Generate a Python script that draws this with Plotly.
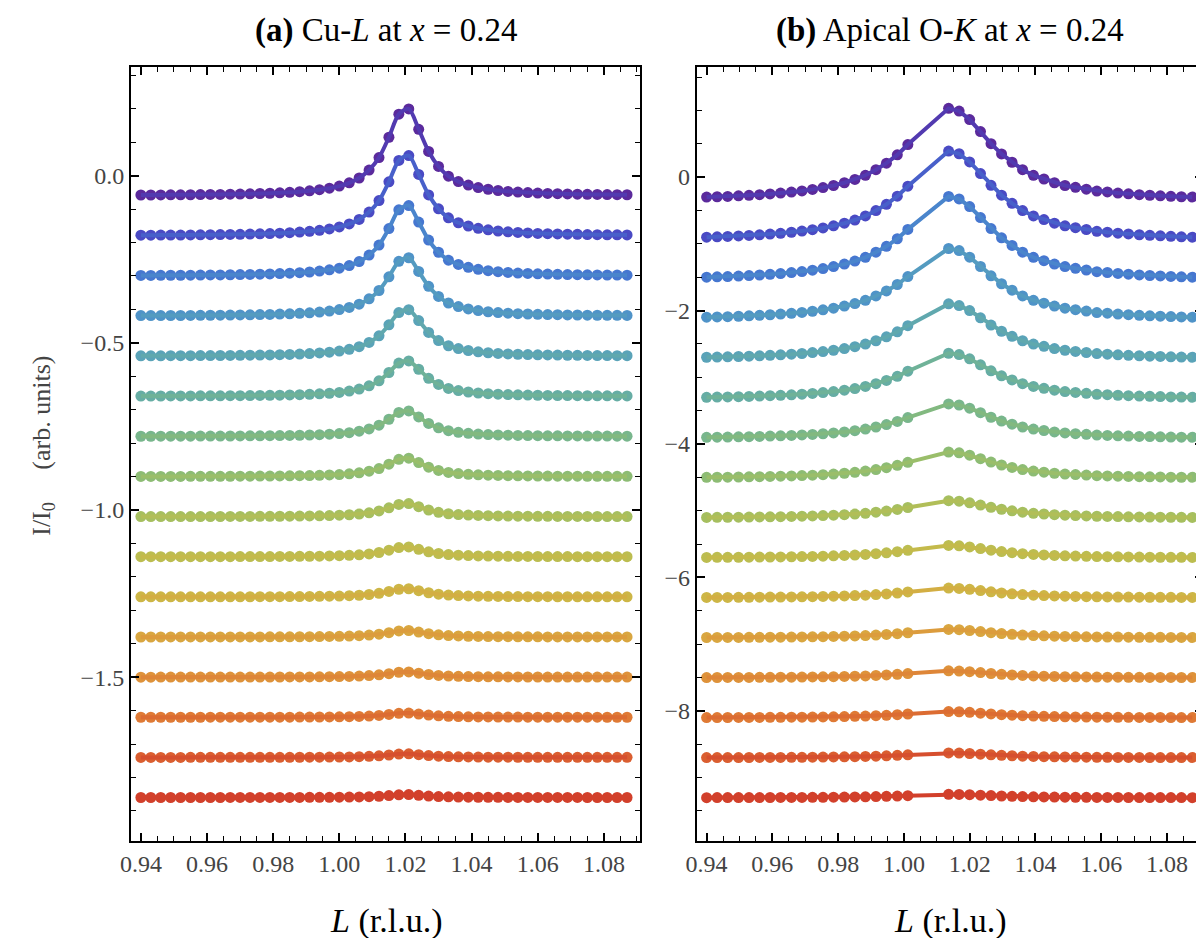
import plotly.graph_objects as go

# ---------------- data ----------------
# Panel (a): Cu-L, measured L positions
L_a = [0.940, 0.943, 0.946, 0.949, 0.952, 0.955, 0.958, 0.961, 0.964, 0.967,
       0.970, 0.973, 0.976, 0.979, 0.982, 0.985, 0.988, 0.991, 0.994, 0.997,
       1.000, 1.003, 1.006, 1.009, 1.012, 1.015, 1.018, 1.021, 1.024, 1.027,
       1.030, 1.033, 1.036, 1.039, 1.042, 1.045, 1.048, 1.051, 1.054, 1.057,
       1.060, 1.063, 1.066, 1.069, 1.072, 1.075, 1.078, 1.081, 1.084, 1.087]
# normalised peak shape (a)
shape_a = [0.008, 0.008, 0.009, 0.010, 0.010, 0.011, 0.013, 0.014, 0.015, 0.017,
           0.019, 0.022, 0.025, 0.028, 0.033, 0.038, 0.046, 0.055, 0.068, 0.085,
           0.109, 0.145, 0.200, 0.290, 0.430, 0.660, 0.920, 0.980, 0.750, 0.500,
           0.330, 0.220, 0.160, 0.120, 0.092, 0.073, 0.059, 0.049, 0.041, 0.035,
           0.030, 0.026, 0.023, 0.020, 0.018, 0.016, 0.014, 0.013, 0.012, 0.011]
base_a = [-0.06, -0.18, -0.30, -0.42, -0.54, -0.66, -0.78, -0.90,
          -1.02, -1.14, -1.26, -1.38, -1.50, -1.62, -1.74, -1.86]
amp_a = [0.265, 0.245, 0.215, 0.178, 0.142, 0.108, 0.078, 0.056,
         0.040, 0.030, 0.025, 0.020, 0.016, 0.013, 0.011, 0.009]

# Panel (b): apical O-K, measured L positions (gap near the peak)
L_b = [0.9400, 0.9432, 0.9464, 0.9497, 0.9529, 0.9561, 0.9593, 0.9625, 0.9658, 0.9690,
       0.9722, 0.9754, 0.9786, 0.9819, 0.9851, 0.9883, 0.9915, 0.9947, 0.9980, 1.0012,
       1.0136, 1.0168, 1.0200, 1.0233, 1.0265, 1.0297, 1.0329, 1.0361, 1.0394, 1.0426,
       1.0458, 1.0490, 1.0522, 1.0555, 1.0587, 1.0619, 1.0651, 1.0683, 1.0716, 1.0748,
       1.0780, 1.0812, 1.0844, 1.0877]
shape_b = [0.000, 0.004, 0.008, 0.014, 0.020, 0.027, 0.036, 0.045, 0.057, 0.070,
           0.087, 0.107, 0.131, 0.162, 0.199, 0.246, 0.309, 0.382, 0.476, 0.592,
           1.000, 0.969, 0.874, 0.738, 0.602, 0.487, 0.393, 0.309, 0.246, 0.204,
           0.162, 0.131, 0.110, 0.089, 0.068, 0.058, 0.046, 0.037, 0.028, 0.021,
           0.015, 0.009, 0.004, 0.000]
base_b = [-0.3, -0.9, -1.5, -2.1, -2.7, -3.3, -3.9, -4.5,
          -5.1, -5.7, -6.3, -6.9, -7.5, -8.1, -8.7, -9.3]
amp_b = [1.33, 1.29, 1.21, 1.03, 0.80, 0.66, 0.50, 0.38,
         0.25, 0.18, 0.14, 0.12, 0.10, 0.09, 0.07, 0.05]

x_ticks = [0.94, 0.96, 0.98, 1.00, 1.02, 1.04, 1.06, 1.08]

# ---------------- styles ----------------
dot_colors = ["#5b2a9c", "#4a4ac4", "#4677d0", "#4f93c8", "#5aa3b8", "#66ada4",
              "#78b68c", "#8dbc74", "#a6bf5f", "#bcbd50", "#cdb646", "#d9a640",
              "#de923a", "#df7a35", "#da5e30", "#d2402b"]


def mix(c1, c2, t):
    a = [int(c1[i:i + 2], 16) for i in (1, 3, 5)]
    b = [int(c2[i:i + 2], 16) for i in (1, 3, 5)]
    return "rgb(%d,%d,%d)" % tuple(round(a[k] + (b[k] - a[k]) * t) for k in range(3))


line_colors = [mix(dot_colors[i], dot_colors[min(i + 1, 15)], 0.5) for i in range(16)]

SERIF = "Liberation Serif"

fig = go.Figure()

for panel, (L, shape, base, amp, xa, ya, lshape) in enumerate([
        (L_a, shape_a, base_a, amp_a, "x", "y", "spline"),
        (L_b, shape_b, base_b, amp_b, "x2", "y2", "linear")]):
    for i in range(16):
        yv = [base[i] + amp[i] * s for s in shape]
        fig.add_trace(go.Scatter(
            x=L, y=yv, mode="markers", xaxis=xa, yaxis=ya,
            marker=dict(size=11, color=dot_colors[i]), showlegend=False,
            hoverinfo="skip"))
        fig.add_trace(go.Scatter(
            x=L, y=yv, mode="lines", xaxis=xa, yaxis=ya,
            line=dict(color=line_colors[i], width=4, shape=lshape, smoothing=0.8),
            showlegend=False, hoverinfo="skip"))

tickfont = dict(family=SERIF, size=24, color="#444444")
common_x = dict(range=[0.937, 1.091], tickvals=x_ticks, ticktext=["%.2f" % v for v in x_ticks],
                showline=True, linecolor="black", linewidth=2, mirror="ticks",
                ticks="inside", ticklen=8, tickwidth=1.6, tickcolor="black",
                minor=dict(dtick=0.005, tick0=0.94, ticks="inside", ticklen=5,
                           tickwidth=1.2, tickcolor="black"),
                showgrid=False, zeroline=False, tickfont=tickfont)
common_y = dict(showline=True, linecolor="black", linewidth=2, mirror="ticks",
                ticks="inside", ticklen=8, tickwidth=1.6, tickcolor="black",
                showgrid=False, zeroline=False, tickfont=tickfont)

fig.update_layout(
    width=1204, height=938,
    margin=dict(l=0, r=0, t=0, b=0),
    paper_bgcolor="white", plot_bgcolor="white",
    xaxis=dict(domain=[113 / 1204, 627 / 1204], anchor="y", **common_x),
    xaxis2=dict(domain=[684 / 1204, 1195 / 1204], anchor="y2", **common_x),
    yaxis=dict(domain=[1 - 833 / 938, 1 - 59 / 938], anchor="x", range=[-1.99, 0.325],
               tickvals=[0.0, -0.5, -1.0, -1.5], tickformat=".1f",
               minor=dict(dtick=0.1, tick0=0, ticks="inside", ticklen=5,
                          tickwidth=1.2, tickcolor="black"), **common_y),
    yaxis2=dict(domain=[1 - 833 / 938, 1 - 59 / 938], anchor="x2", range=[-9.95, 1.65],
                tickvals=[0, -2, -4, -6, -8], tickformat="d",
                minor=dict(dtick=0.5, tick0=0, ticks="inside", ticklen=5,
                           tickwidth=1.2, tickcolor="black"), **common_y),
)

annos = [
    dict(x=370 / 1204, y=1 - 22 / 938, text="<b>(a)</b> Cu-<i>L</i> at <i>x</i> = 0.24",
         font=dict(family=SERIF, size=33, color="black")),
    dict(x=940 / 1204, y=1 - 22 / 938, text="<b>(b)</b> Apical O-<i>K</i> at <i>x</i> = 0.24",
         font=dict(family=SERIF, size=33, color="black")),
    dict(x=370 / 1204, y=1 - 913 / 938, text="<i>L</i> (r.l.u.)",
         font=dict(family=SERIF, size=34, color="black")),
    dict(x=940 / 1204, y=1 - 913 / 938, text="<i>L</i> (r.l.u.)",
         font=dict(family=SERIF, size=34, color="black")),
    dict(x=24 / 1204, y=1 - 438 / 938, text="I/I<sub>0</sub>     (arb. units)", textangle=-90,
         font=dict(family=SERIF, size=26, color="#444444")),
]
for a in annos:
    fig.add_annotation(xref="paper", yref="paper", showarrow=False,
                       xanchor="center", yanchor="middle", **a)

fig.write_html("out.html")
